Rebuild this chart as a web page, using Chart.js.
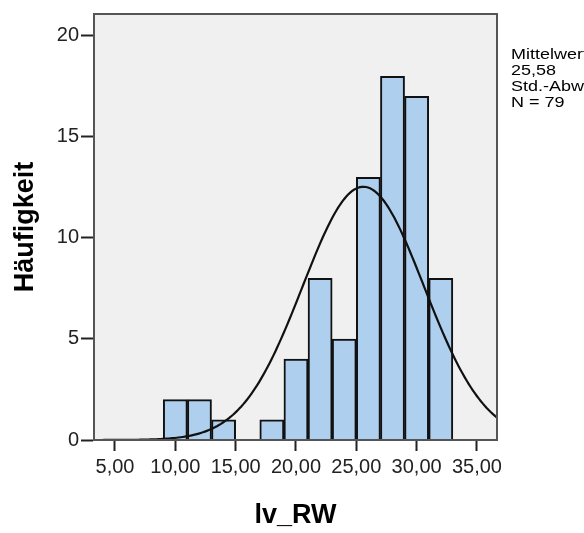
<!DOCTYPE html>
<html>
<head>
<meta charset="utf-8">
<script src="https://cdn.jsdelivr.net/npm/chart.js@4"></script>
<style>
  html, body { margin: 0; padding: 0; background: #fff; }
  #wrap { width: 584px; height: 533px; position: relative; }
</style>
</head>
<body>
<div id="wrap"><canvas id="histChart" width="584" height="533"></canvas></div>
<script>
// histogram bins (centres) and counts
const binCenters = [10, 12, 14, 16, 18, 20, 22, 24, 26, 28, 30, 32];
const binCounts = [2, 2, 1, 0, 1, 4, 8, 5, 13, 18, 17, 8];
const binWidth = 2;
const xTicks = [5, 10, 15, 20, 25, 30, 35];
const yTicks = [0, 5, 10, 15, 20];
const meanValue = 25.58;
const stdDev = 5.03;
const nCases = 79;
const statLines = ['Mittelwert =', '25,58', 'Std.-Abw. = 5,03', 'N = 79'];

const xMin = 3.26, xMax = 36.66;

// fitted normal curve, scaled to counts
const curve = [];
for (let i = 0; i <= 200; i++) {
    const x = xMin + (xMax - xMin) * i / 200;
    const z = (x - meanValue) / stdDev;
    curve.push({ x: x, y: nCases * binWidth / (stdDev * Math.sqrt(2 * Math.PI)) * Math.exp(-0.5 * z * z) });
}

const fontFam = '"Liberation Sans", Arial, sans-serif';

const framePlugin = {
    id: 'frame',
    beforeDatasetsDraw(chart) {
        const a = chart.chartArea, c = chart.ctx;
        c.save();
        c.fillStyle = '#f0f0f0';
        c.fillRect(a.left, a.top, a.right - a.left, a.bottom - a.top);
        c.restore();
    },
    afterDraw(chart) {
        const a = chart.chartArea, c = chart.ctx;
        c.save();
        c.strokeStyle = '#555';
        c.lineWidth = 2;
        c.strokeRect(a.left, a.top, a.right - a.left, a.bottom - a.top);
        // stats text on the right (squashed like the original)
        c.fillStyle = '#000';
        c.font = '18px ' + fontFam;
        c.textBaseline = 'alphabetic';
        c.scale(1, 0.85);
        statLines.forEach((t, i) => c.fillText(t, 511, (59 + i * 16) / 0.85));
        c.restore();
    }
};

const ctx = document.getElementById('histChart').getContext('2d');
const histChart = new Chart(ctx, {
    data: {
        datasets: [{
            type: 'line',
            data: curve,
            borderColor: '#111',
            borderWidth: 2.2,
            pointRadius: 0,
            fill: false,
            tension: 0,
            order: 0
        }, {
            type: 'bar',
            data: binCenters.map((c, i) => ({ x: c, y: binCounts[i] })),
            backgroundColor: '#aed0ee',
            borderColor: '#111',
            borderWidth: 2,
            barPercentage: 1,
            categoryPercentage: 1,
            order: 1
        }]
    },
    options: {
        responsive: false,
        animation: false,
        layout: { padding: { top: 10, right: 87, left: 0, bottom: 0 } },
        plugins: { legend: { display: false }, tooltip: { enabled: false } },
        scales: {
            x: {
                type: 'linear',
                min: xMin,
                max: xMax,
                offset: false,
                afterBuildTicks: s => { s.ticks = xTicks.map(v => ({ value: v })); },
                afterFit: s => { s.height = 93; },
                grid: { offset: false, drawOnChartArea: false, tickLength: 11, tickColor: '#222', tickWidth: 2 },
                border: { color: '#333', width: 2 },
                ticks: {
                    color: '#222',
                    font: { size: 20, family: fontFam },
                    padding: 4,
                    maxRotation: 0,
                    autoSkip: false,
                    callback: v => v.toFixed(2).replace('.', ',')
                },
                title: {
                    display: true,
                    text: 'lv_RW',
                    color: '#000',
                    font: { size: 27, weight: 'bold', family: fontFam },
                    padding: { top: 0, bottom: 1 }
                }
            },
            y: {
                min: 0,
                max: 21.08,
                afterBuildTicks: s => { s.ticks = yTicks.map(v => ({ value: v })); },
                afterFit: s => { s.width = 94; },
                grid: { drawOnChartArea: false, tickLength: 13, tickColor: '#222', tickWidth: 2 },
                border: { color: '#333', width: 2 },
                ticks: {
                    color: '#222',
                    font: { size: 20, family: fontFam },
                    padding: 2
                },
                title: {
                    display: true,
                    text: 'Häufigkeit',
                    color: '#000',
                    font: { size: 27, weight: 'bold', family: fontFam },
                    padding: { bottom: 0, top: 9 }
                }
            }
        }
    },
    plugins: [framePlugin]
});
</script>
</body>
</html>
